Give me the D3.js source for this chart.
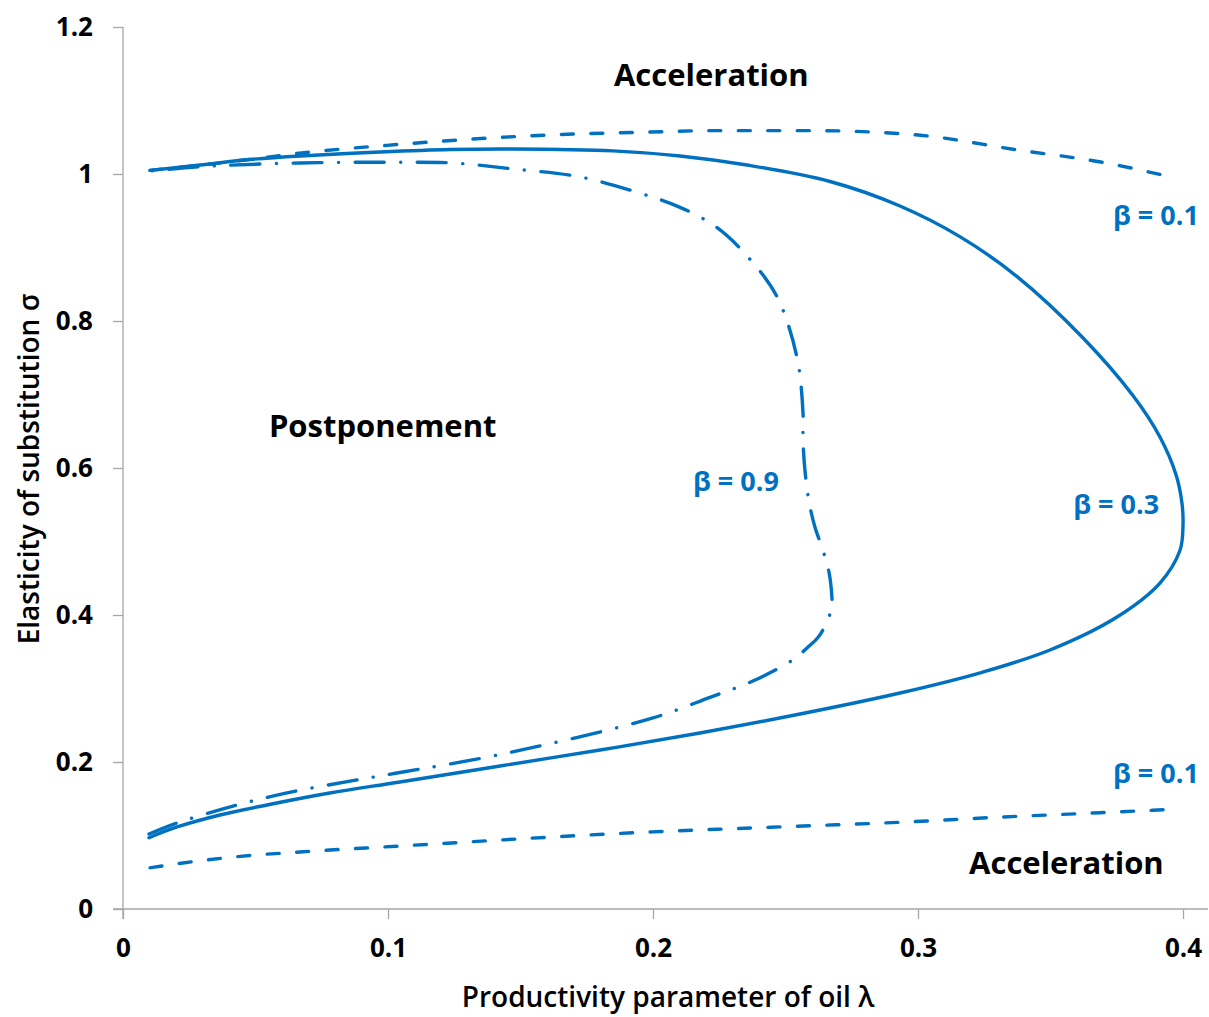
<!DOCTYPE html>
<html>
<head>
<meta charset="utf-8">
<script src="https://cdn.jsdelivr.net/npm/d3@7"></script>
<style>
  html, body { margin: 0; padding: 0; background: #fff; }
  svg { display: block; }
  text { font-family: "Open Sans", "DejaVu Sans", sans-serif; }
</style>
</head>
<body>
<svg id="chart" width="1209" height="1017"></svg>
<script>
// ---- data ----
const xTicks = [0, 0.1, 0.2, 0.3, 0.4];
const yTicks = [0, 0.2, 0.4, 0.6, 0.8, 1, 1.2];
const xTickLabels = ["0", "0.1", "0.2", "0.3", "0.4"];
const yTickLabels = ["0", "0.2", "0.4", "0.6", "0.8", "1", "1.2"];

// beta = 0.1, upper branch (dashed)
const b01UpperLambda = [0.0102, 0.029, 0.048, 0.0683, 0.0996, 0.16, 0.198, 0.2226, 0.2604, 0.3, 0.337, 0.371, 0.3965];
const b01UpperSigma  = [1.005, 1.012, 1.020, 1.029, 1.039, 1.053, 1.057, 1.059, 1.059, 1.053, 1.033, 1.015, 0.995];
// beta = 0.1, lower branch (dashed)
const b01LowerLambda = [0.0102, 0.0226, 0.0453, 0.0668, 0.1045, 0.2, 0.25, 0.2932, 0.331, 0.3687, 0.3985];
const b01LowerSigma  = [0.056, 0.0626, 0.072, 0.0776, 0.0857, 0.105, 0.112, 0.118, 0.125, 0.131, 0.136];
// beta = 0.3 (solid), traced from lower-left round to upper-left
const b03Lambda = [0.0098, 0.0204, 0.0366, 0.0543, 0.078, 0.1045, 0.1423, 0.18, 0.2177, 0.2555, 0.2932, 0.3245, 0.3498, 0.3751, 0.3913, 0.3989, 0.4, 0.3996, 0.3974, 0.3913, 0.3811, 0.3623, 0.3374, 0.3158, 0.2932, 0.2668, 0.2355, 0.2102, 0.1849, 0.1472, 0.1234, 0.097, 0.0668, 0.0479, 0.029, 0.0102];
const b03Sigma  = [0.097, 0.1116, 0.1279, 0.1415, 0.1578, 0.1728, 0.1946, 0.2163, 0.2395, 0.2653, 0.2939, 0.3224, 0.3524, 0.3973, 0.4435, 0.4884, 0.5224, 0.5524, 0.5905, 0.6422, 0.6986, 0.7769, 0.8604, 0.9148, 0.9565, 0.9898, 1.0122, 1.0245, 1.0315, 1.034, 1.0333, 1.0299, 1.0245, 1.0197, 1.0122, 1.005];
// beta = 0.9 (dash-dot), traced from lower-left round to upper-left
const b09Lambda = [0.0098, 0.0204, 0.0415, 0.0619, 0.0857, 0.1034, 0.142, 0.2, 0.2215, 0.2377, 0.2528, 0.2581, 0.263, 0.2675, 0.2675, 0.2664, 0.2641, 0.2611, 0.2589, 0.2574, 0.2566, 0.2566, 0.2543, 0.2468, 0.2366, 0.2242, 0.210, 0.195, 0.1725, 0.147, 0.1245, 0.1008, 0.0668, 0.029, 0.0102];
const b09Sigma  = [0.102, 0.117, 0.140, 0.158, 0.174, 0.185, 0.21, 0.26, 0.288, 0.3102, 0.339, 0.355, 0.373, 0.410, 0.4245, 0.4585, 0.4884, 0.5197, 0.5537, 0.5946, 0.638, 0.675, 0.751, 0.833, 0.884, 0.927, 0.955, 0.974, 0.996, 1.007, 1.015, 1.016, 1.015, 1.010, 1.004];

const regionLabels = [
  { text: "Acceleration", lambda: 0.222, sigma: 1.135 },
  { text: "Postponement", lambda: 0.098, sigma: 0.657 },
  { text: "Acceleration", lambda: 0.356, sigma: 0.063 }
];
const betaLabels = [
  { text: "β = 0.1", lambda: 0.406, sigma: 0.944 },
  { text: "β = 0.9", lambda: 0.2475, sigma: 0.582 },
  { text: "β = 0.3", lambda: 0.391, sigma: 0.55 },
  { text: "β = 0.1", lambda: 0.406, sigma: 0.185 }
];

// ---- layout ----
const blue = "#0070C0";
const axisColor = "#A6A6A6";
const svg = d3.select("#chart");

const x = d3.scaleLinear().domain([0, 0.4]).range([123, 1183]);
const y = d3.scaleLinear().domain([0, 1.2]).range([909, 27]);
const xEnd = 1208;

// axes
const gx = svg.append("g").attr("transform", `translate(0,${y(0)})`)
  .call(d3.axisBottom(x).tickValues(xTicks).tickSize(10).tickSizeOuter(0)
    .tickFormat((d, i) => xTickLabels[i]));
gx.select(".domain").remove();
gx.append("line").attr("x1", 113).attr("x2", xEnd).attr("y1", 0).attr("y2", 0)
  .attr("stroke", axisColor).attr("stroke-width", 1.3);
gx.selectAll(".tick line").attr("stroke", axisColor).attr("stroke-width", 1.3);
gx.selectAll(".tick text").attr("fill", "#000").attr("font-size", 26).attr("font-weight", 700)
  .attr("font-family", "'Open Sans', sans-serif").attr("y", 30).attr("dy", "0.71em");

const gy = svg.append("g").attr("transform", `translate(${x(0)},0)`)
  .call(d3.axisLeft(y).tickValues(yTicks).tickSize(10).tickSizeOuter(0)
    .tickFormat((d, i) => yTickLabels[i]));
gy.select(".domain").remove();
gy.append("line").attr("x1", 0).attr("x2", 0).attr("y1", y(1.2)).attr("y2", y(0) + 10)
  .attr("stroke", axisColor).attr("stroke-width", 1.3);
gy.selectAll(".tick line").attr("stroke", axisColor).attr("stroke-width", 1.3);
gy.selectAll(".tick text").attr("fill", "#000").attr("font-size", 26).attr("font-weight", 700)
  .attr("font-family", "'Open Sans', sans-serif").attr("x", -30);

// axis titles
svg.append("text").attr("x", 668).attr("y", 1007).attr("text-anchor", "middle")
  .attr("font-size", 28).attr("font-weight", 600).attr("fill", "#000")
  .text("Productivity parameter of oil λ");
svg.append("text").attr("transform", "translate(39,469) rotate(-90)").attr("text-anchor", "middle")
  .attr("font-size", 28).attr("font-weight", 600).attr("fill", "#000")
  .text("Elasticity of substitution σ");

// series
function pts(lx, sy) { return lx.map((l, i) => [l, sy[i]]); }
const lineMono = d3.line().x(d => x(d[0])).y(d => y(d[1])).curve(d3.curveMonotoneX);
const lineLoop = d3.line().x(d => x(d[0])).y(d => y(d[1])).curve(d3.curveCatmullRom.alpha(0.5));

const series = [
  { data: pts(b01UpperLambda, b01UpperSigma), gen: lineMono, dash: "12,17.5" },
  { data: pts(b01LowerLambda, b01LowerSigma), gen: lineMono, dash: "12,17.5" },
  { data: pts(b03Lambda, b03Sigma), gen: lineLoop, dash: null },
  { data: pts(b09Lambda, b09Sigma), gen: lineLoop, dash: "29,16.5,0.1,16.5" }
];
svg.append("g").selectAll("path").data(series).join("path")
  .attr("d", s => s.gen(s.data))
  .attr("fill", "none").attr("stroke", blue).attr("stroke-width", 3.4)
  .attr("stroke-linecap", "round").attr("stroke-linejoin", "round")
  .attr("stroke-dasharray", s => s.dash);

// region labels
svg.append("g").selectAll("text").data(regionLabels).join("text")
  .attr("x", d => x(d.lambda)).attr("y", d => y(d.sigma)).attr("text-anchor", "middle")
  .attr("dy", "0.36em").attr("font-size", 31).attr("font-weight", 700).attr("fill", "#000")
  .text(d => d.text);

// beta labels
svg.append("g").selectAll("text").data(betaLabels).join("text")
  .attr("x", d => x(d.lambda)).attr("y", d => y(d.sigma)).attr("text-anchor", "end")
  .attr("dy", "0.36em").attr("font-size", 27).attr("font-weight", 700).attr("fill", blue)
  .text(d => d.text);
</script>
</body>
</html>
